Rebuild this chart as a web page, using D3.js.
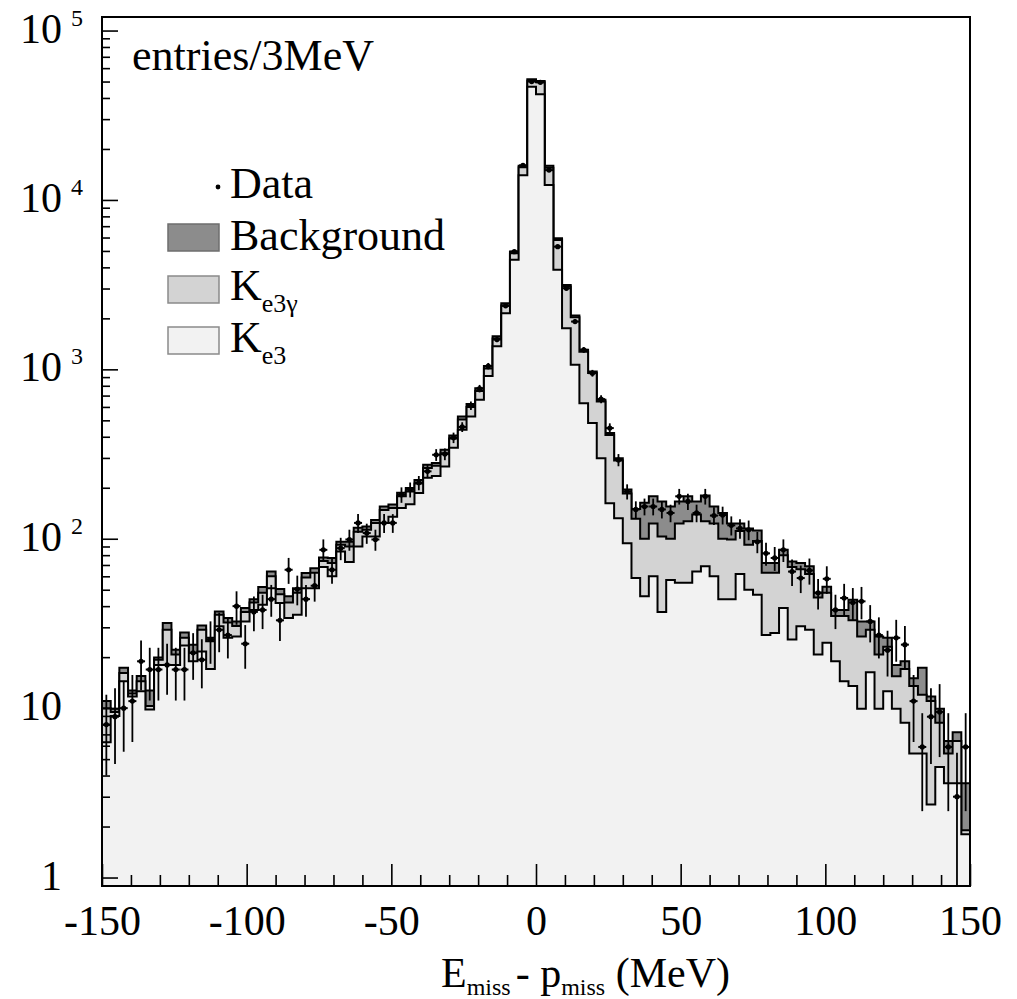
<!DOCTYPE html>
<html>
<head>
<meta charset="utf-8">
<script src="https://cdn.jsdelivr.net/npm/d3@7"></script>
<style>
  body { margin: 0; background: #fff; }
  text { font-family: "Liberation Serif", "Times New Roman", serif; fill: #000; white-space: pre; }
</style>
</head>
<body>
<div id="chart"></div>
<script>
// ******************************* DATA ****************************************
// 100 bins of 3 MeV from -150 to 150 MeV
var binStart = -150,
    binWidth = 3;

// Ke3 MC (bottom of the stack)
var ke3 = [6.3, 9.0, 14.4, 11.7, 12.6, 9.8, 18, 18, 18, 23.4,
  18.9, 21.6, 17, 30.4, 26, 26.5, 32.5, 38, 40.8, 51,
  41.7, 34, 35.6, 51, 51, 68, 60, 84, 73, 90,
  103, 103, 124, 135, 152, 160, 186, 229, 235, 267,
  344, 440, 527, 661, 912, 1370, 2140, 4430, 14000, 46600,
  42000, 12250, 3870, 1750, 1063, 631, 482, 299, 162, 132,
  94, 58.6, 45.7, 60, 37, 57, 55, 55, 64, 68.7,
  60, 44, 44, 62, 50, 46.7, 27, 27.8, 39, 25.4,
  30.4, 29, 20.7, 24.3, 18.9, 14.4, 13.5, 9.9, 16.3, 9.9,
  12.6, 9.9, 8.2, 5.4, 5.4, 2.7, 4.5, 3.6, 3.6, 1.8];

// Ke3gamma MC (middle of the stack)
var ke3g = [3.7, 0.5, 1.7, 0.5, 1.8, 0.5, 1.3, 11, 2.7, 2.6,
  2.3, 7.4, 7.8, 5.2, 6, 4, 4.5, 4, 7.2, 9,
  5.3, 8, 12.4, 8, 12, 6, 12, 8, 17, 20,
  10, 21, 24, 17, 26, 30, 26, 33, 35, 53,
  46, 65, 73, 84, 98, 150, 240, 420, 1600, 3900,
  7500, 3250, 1930, 1330, 967, 639, 468, 346, 248, 158,
  91, 72.4, 54.3, 63, 66, 43, 68, 72, 75, 58.3,
  63, 56, 55, 49, 42, 50.3, 36, 35.2, 41, 42.6,
  35.6, 33, 24.3, 23.7, 16.1, 20.6, 19.5, 16.6, 12.7, 10.8,
  10.4, 5.5, 8.8, 8.1, 6.6, 8.3, 3.7, 1.8, 2.8, 0.1];

// Background MC (top of the stack)
var bkg = [1.0, 0.4, 1.2, 0.5, 1.1, 2.4, 0.6, 2.8, 1.4, 2.0,
  2.5, 1.7, 1.2, 1.6, 2, 2, 2, 2, 3.9, 4,
  3.5, 3.7, 3, 3.7, 4, 3.6, 5, 4, 6, 6,
  5, 5, 7, 7, 9, 9, 10, 11, 10, 15,
  17, 22, 25, 29, 35, 50, 75, 105, 330, 1000,
  850, 400, 140, 70, 47, 33, 21, 16, 11, 9,
  10, 19, 63, 55, 63, 55, 43, 51, 27, 53,
  32, 42, 24, 12, 23, 15, 9, 9, 6, 5.5,
  6, 6.7, 3, 4, 3, 3, 10.6, 6, 3.5, 5.8,
  3, 2.6, 1.9, 1.5, 5.3, 0.7, 1.7, 1.0, 0.8, 1.7];

// Data (entries / 3 MeV)
var dataCounts = [8, 8.9, 10, 11, 18.9, 16.9, 16.9, 18, 16.9, 16.9,
  21.2, 19.3, 25.4, 29, 27, 40, 24, 37, 38, 44,
  33, 65.6, 50.5, 44, 52.8, 86, 65.6, 88, 99, 124,
  108, 99, 124, 124, 182, 195, 214, 250, 313, 316,
  395, 457, 610, 770, 1045, 1500, 2370, 4950, 16000, 50000,
  49500, 15000, 5300, 3010, 1915, 1303, 949, 667, 450, 292,
  190, 149, 155, 155, 149, 142, 178, 166, 142, 178,
  137, 138, 120, 115, 113, 96, 82, 77, 86, 64,
  58.6, 65, 48, 58, 38, 44.7, 42, 42.7, 32.5, 27,
  22, 26, 23.7, 11, 5.9, 8.9, 9.5, 5.9, 3.0, 5.9];

// data were rescaled, error bar = sqrt(errScale * entries)
var errScale = 2;

var xTicks = [-150, -100, -50, 0, 50, 100, 150];
var yExponents = [0, 1, 2, 3, 4, 5];

// *************************** CANVAS SET UP ***********************************
var svgWidth = 1017,
    svgHeight = 999;
var frame = {left: 102, right: 970, top: 17, bottom: 886};

var svg = d3.select("#chart")
  .append("svg")
    .attr("width", svgWidth)
    .attr("height", svgHeight);

// ******************************* SCALES **************************************
var x = d3.scaleLinear()
  .domain([-150, 150])
  .range([frame.left, frame.right]);

var y = d3.scaleLog()
  .domain([Math.pow(10, -0.05), Math.pow(10, 5.08)])
  .range([frame.bottom, frame.top])
  .clamp(true);

// cumulative stack
var cumKe3 = ke3.map(d => d);
var cumKe3g = ke3.map((d, i) => d + ke3g[i]);
var cumAll = ke3.map((d, i) => d + ke3g[i] + bkg[i]);

var binLow = ke3.map((d, i) => binStart + i * binWidth);

// ***************************** HISTOGRAMS ************************************
var histArea = d3.area()
  .curve(d3.curveStepAfter)
  .x(d => x(d.x))
  .y0(frame.bottom)
  .y1(d => y(d.v));

function histPoints(vals) {
  var pts = vals.map((v, i) => ({x: binLow[i], v: v}));
  pts.push({x: binLow[vals.length - 1] + binWidth, v: vals[vals.length - 1]});
  return pts;
}

var layers = [
  {vals: cumAll, fill: "#8c8c8c"},
  {vals: cumKe3g, fill: "#d3d3d3"},
  {vals: cumKe3, fill: "#f2f2f2"}
];

layers.forEach(function(l) {
  svg.append("path")
    .attr("d", histArea(histPoints(l.vals)))
    .attr("fill", l.fill)
    .attr("stroke", "#000")
    .attr("stroke-width", 2)
    .attr("stroke-linejoin", "miter");
});

// ******************************* DATA POINTS *********************************
var pts = svg.append("g");
dataCounts.forEach(function(n, i) {
  var cx = x(binLow[i] + binWidth / 2);
  var err = Math.sqrt(errScale * n);
  pts.append("line")
    .attr("x1", cx).attr("x2", cx)
    .attr("y1", y(n + err)).attr("y2", y(Math.max(n - err, 0.5)))
    .attr("stroke", "#000").attr("stroke-width", 1.8);
  pts.append("line")
    .attr("x1", cx - 4).attr("x2", cx + 4)
    .attr("y1", y(n)).attr("y2", y(n))
    .attr("stroke", "#000").attr("stroke-width", 2);
  pts.append("circle")
    .attr("cx", cx).attr("cy", y(n)).attr("r", 2.6)
    .attr("fill", "#000");
});

// ******************************* FRAME & AXES ********************************
svg.append("rect")
  .attr("x", frame.left).attr("y", frame.top)
  .attr("width", frame.right - frame.left)
  .attr("height", frame.bottom - frame.top)
  .attr("fill", "none")
  .attr("stroke", "#000")
  .attr("stroke-width", 2);

// x axis: major ticks with labels, minor ticks every 10 MeV
var xMinor = d3.range(-140, 150, 10).filter(d => d % 50 !== 0);

var xAxisMajor = svg.append("g")
  .attr("transform", `translate(0, ${frame.bottom})`)
  .call(d3.axisBottom(x).tickValues(xTicks).tickSize(-22).tickPadding(19)
    .tickFormat(d => String(d)));
xAxisMajor.select(".domain").remove();
xAxisMajor.selectAll("line").attr("stroke-width", 1.6);
xAxisMajor.selectAll("text")
  .style("font-size", "42px")
  .style("font-family", "Liberation Serif");

var xAxisMinor = svg.append("g")
  .attr("transform", `translate(0, ${frame.bottom})`)
  .call(d3.axisBottom(x).tickValues(xMinor).tickSize(-11).tickFormat(""));
xAxisMinor.select(".domain").remove();
xAxisMinor.selectAll("line").attr("stroke-width", 1.6);

// y axis: decades and minor ticks 2..9
var yMajor = yExponents.map(k => Math.pow(10, k));
var yMinor = [];
yExponents.forEach(function(k) {
  for (var m = 2; m <= 9; m++) {
    var v = m * Math.pow(10, k);
    if (v < y.domain()[1]) yMinor.push(v);
  }
});

var yAxisMajor = svg.append("g")
  .attr("transform", `translate(${frame.left}, 0)`)
  .call(d3.axisLeft(y).tickValues(yMajor).tickSize(-16).tickFormat(""));
yAxisMajor.select(".domain").remove();
yAxisMajor.selectAll("line").attr("stroke-width", 1.6);

var yAxisMinor = svg.append("g")
  .attr("transform", `translate(${frame.left}, 0)`)
  .call(d3.axisLeft(y).tickValues(yMinor).tickSize(-8).tickFormat(""));
yAxisMinor.select(".domain").remove();
yAxisMinor.selectAll("line").attr("stroke-width", 1.6);

// y tick labels (10^k)
yExponents.forEach(function(k) {
  var ty = y(Math.pow(10, k)) + 12;
  var label = svg.append("text")
    .attr("x", 62).attr("y", ty)
    .attr("text-anchor", "end")
    .style("font-size", "42px")
    .text(k === 0 ? "1" : "10");
  if (k >= 2) {
    svg.append("text")
      .attr("x", 71).attr("y", ty - 17)
      .style("font-size", "24px")
      .text(String(k));
  }
});

// ******************************* LABELS **************************************
svg.append("text")
  .attr("x", 132).attr("y", 70)
  .style("font-size", "44px")
  .text("entries/3MeV");

var xt = svg.append("text")
  .attr("x", 441).attr("y", 987)
  .style("font-size", "42px");
xt.append("tspan").text("E");
xt.append("tspan").attr("dy", 8).style("font-size", "24px").text("miss");
xt.append("tspan").attr("dy", -8).attr("dx", 5).text("- p");
xt.append("tspan").attr("dy", 8).style("font-size", "24px").text("miss");
xt.append("tspan").attr("dy", -8).text(" (MeV)");

// ******************************* LEGEND **************************************
var legend = svg.append("g");

legend.append("circle").attr("cx", 218).attr("cy", 187).attr("r", 2.4).attr("fill", "#000");
legend.append("text").attr("x", 230).attr("y", 198).style("font-size", "44px").text("Data");

var legendBoxes = [
  {y: 224, fill: "#8c8c8c", stroke: "#6e6e6e"},
  {y: 276, fill: "#d3d3d3", stroke: "#8a8a8a"},
  {y: 327, fill: "#f2f2f2", stroke: "#8a8a8a"}
];
legendBoxes.forEach(function(b) {
  legend.append("rect")
    .attr("x", 168).attr("y", b.y)
    .attr("width", 51).attr("height", 27)
    .attr("fill", b.fill)
    .attr("stroke", b.stroke)
    .attr("stroke-width", 1.5);
});

legend.append("text").attr("x", 230).attr("y", 250).style("font-size", "44px").text("Background");

var kg = legend.append("text").attr("x", 230).attr("y", 300).style("font-size", "44px");
kg.append("tspan").text("K");
kg.append("tspan").attr("dy", 12).style("font-size", "26px").text("e3γ");

var k3 = legend.append("text").attr("x", 230).attr("y", 352).style("font-size", "44px");
k3.append("tspan").text("K");
k3.append("tspan").attr("dy", 12).style("font-size", "26px").text("e3");
</script>
</body>
</html>
